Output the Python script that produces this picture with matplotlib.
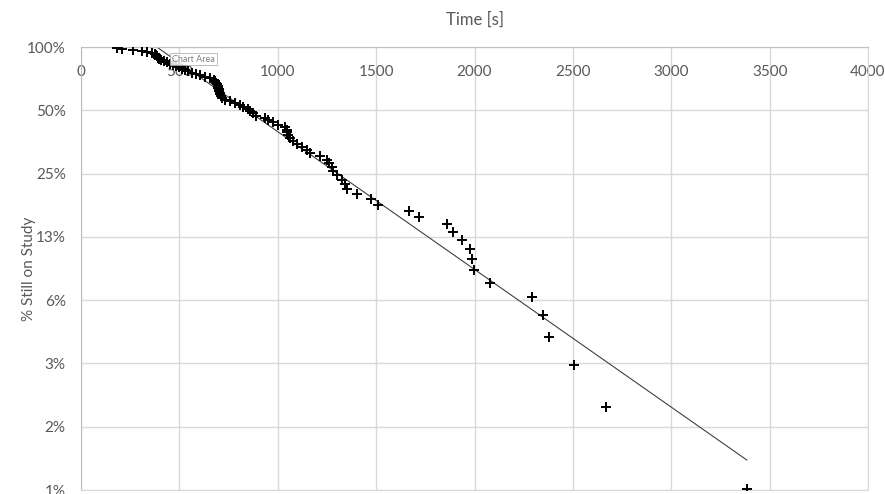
import numpy as np
import matplotlib
matplotlib.use("Agg")
import matplotlib.pyplot as plt

plt.rcParams['font.family'] = ['Lato', 'DejaVu Sans']

# time of each drop-out [s] and % still on study (median ranks)
times = [181, 207, 266, 309, 334, 359, 376, 381, 386, 391,
         396, 407, 422, 437, 452, 468, 483, 498, 513, 529,
         544, 564, 585, 605, 630, 656, 676, 681, 686, 691,
         694, 697, 700, 703, 706, 709, 714, 719, 734, 757,
         783, 808, 823, 849, 859, 874, 890, 935, 951, 976,
         1003, 1037, 1046, 1049, 1054, 1060, 1079, 1096, 1122, 1147,
         1164, 1215, 1249, 1262, 1274, 1282, 1300, 1325, 1342, 1351,
         1405, 1474, 1511, 1669, 1720, 1862, 1893, 1935, 1977, 1986,
         1998, 2079, 2294, 2350, 2377, 2504, 2669, 3384]
still_pct = [99.21, 98.08, 96.95, 95.81, 94.68, 93.55, 92.42, 91.29, 90.16, 89.03,
             87.90, 86.76, 85.63, 84.50, 83.37, 82.24, 81.11, 79.98, 78.85, 77.71,
             76.58, 75.45, 74.32, 73.19, 72.06, 70.93, 69.80, 68.67, 67.53, 66.40,
             65.27, 64.14, 63.01, 61.88, 60.75, 59.62, 58.48, 57.35, 56.22, 55.09,
             53.96, 52.83, 51.70, 50.57, 49.43, 48.30, 47.17, 46.04, 44.91, 43.78,
             42.65, 41.52, 40.38, 39.25, 38.12, 36.99, 35.86, 34.73, 33.60, 32.47,
             31.33, 30.20, 29.07, 27.94, 26.81, 25.68, 24.55, 23.42, 22.29, 21.15,
             20.02, 18.89, 17.76, 16.63, 15.50, 14.37, 13.24, 12.10, 10.97, 9.84,
             8.71, 7.58, 6.45, 5.32, 4.19, 3.06, 1.93, 0.79]

# shifted exponential model
t0 = 385
tau = 663

y_ticks = [100, 50, 25, 12.5, 6.25, 3.125, 1.5625, 0.78125]
y_tick_labels = ['100%', '50%', '25%', '13%', '6%', '3%', '2%', '1%']
x_ticks = [0, 500, 1000, 1500, 2000, 2500, 3000, 3500, 4000]

grid_col = '#d9d9d9'
text_col = '#595959'

times = np.array(times)
still_pct = np.array(still_pct)

fig = plt.figure(figsize=(8.85, 4.94), dpi=100)
ax = fig.add_axes([81 / 885, 1 - 490 / 494, (868 - 81) / 885, (490 - 47) / 494])

ax.set_yscale('log', base=2)
ax.set_ylim(y_ticks[-1], y_ticks[0])
ax.set_xlim(x_ticks[0], x_ticks[-1])

ax.set_yticks(y_ticks)
ax.set_yticklabels(y_tick_labels)
ax.yaxis.set_minor_locator(matplotlib.ticker.NullLocator())
ax.set_xticks(x_ticks)

ax.grid(True, color=grid_col, lw=1.0)
ax.set_axisbelow(True)
for side in ['bottom', 'right']:
    ax.spines[side].set_color(grid_col)
for side in ['top', 'left']:
    ax.spines[side].set_color('#bfbfbf')

ax.tick_params(axis='y', length=0, pad=11, labelsize=11, labelcolor=text_col)
ax.tick_params(axis='x', top=True, labeltop=True, bottom=False, labelbottom=False,
               length=0, pad=-23, labelsize=11, labelcolor=text_col)

# model line
line_t = times[times >= t0]
line_t = np.concatenate([[t0], line_t])
ax.plot(line_t, 100 * np.exp(-(line_t - t0) / tau), color='#404040', lw=0.8, zorder=2)

ax.plot(times, still_pct, '+', color='black', ms=7, mew=1.4, zorder=3)

ax.set_title('Time [s]', color=text_col, fontsize=12, pad=16)
ax.set_ylabel('% Still on Study', color=text_col, fontsize=11)
ax.yaxis.set_label_coords((36 - 81) / 787, 0.5)

# excel tooltip left in the screenshot
fig.text(172 / 885, 1 - 59 / 494, 'Chart Area', fontsize=6.5, color='#808080', va='center',
         bbox=dict(boxstyle='square,pad=0.2', fc='white', ec='#a6a6a6', lw=0.6, alpha=0.85),
         zorder=2.5)

fig.savefig('out.png', dpi=100)
